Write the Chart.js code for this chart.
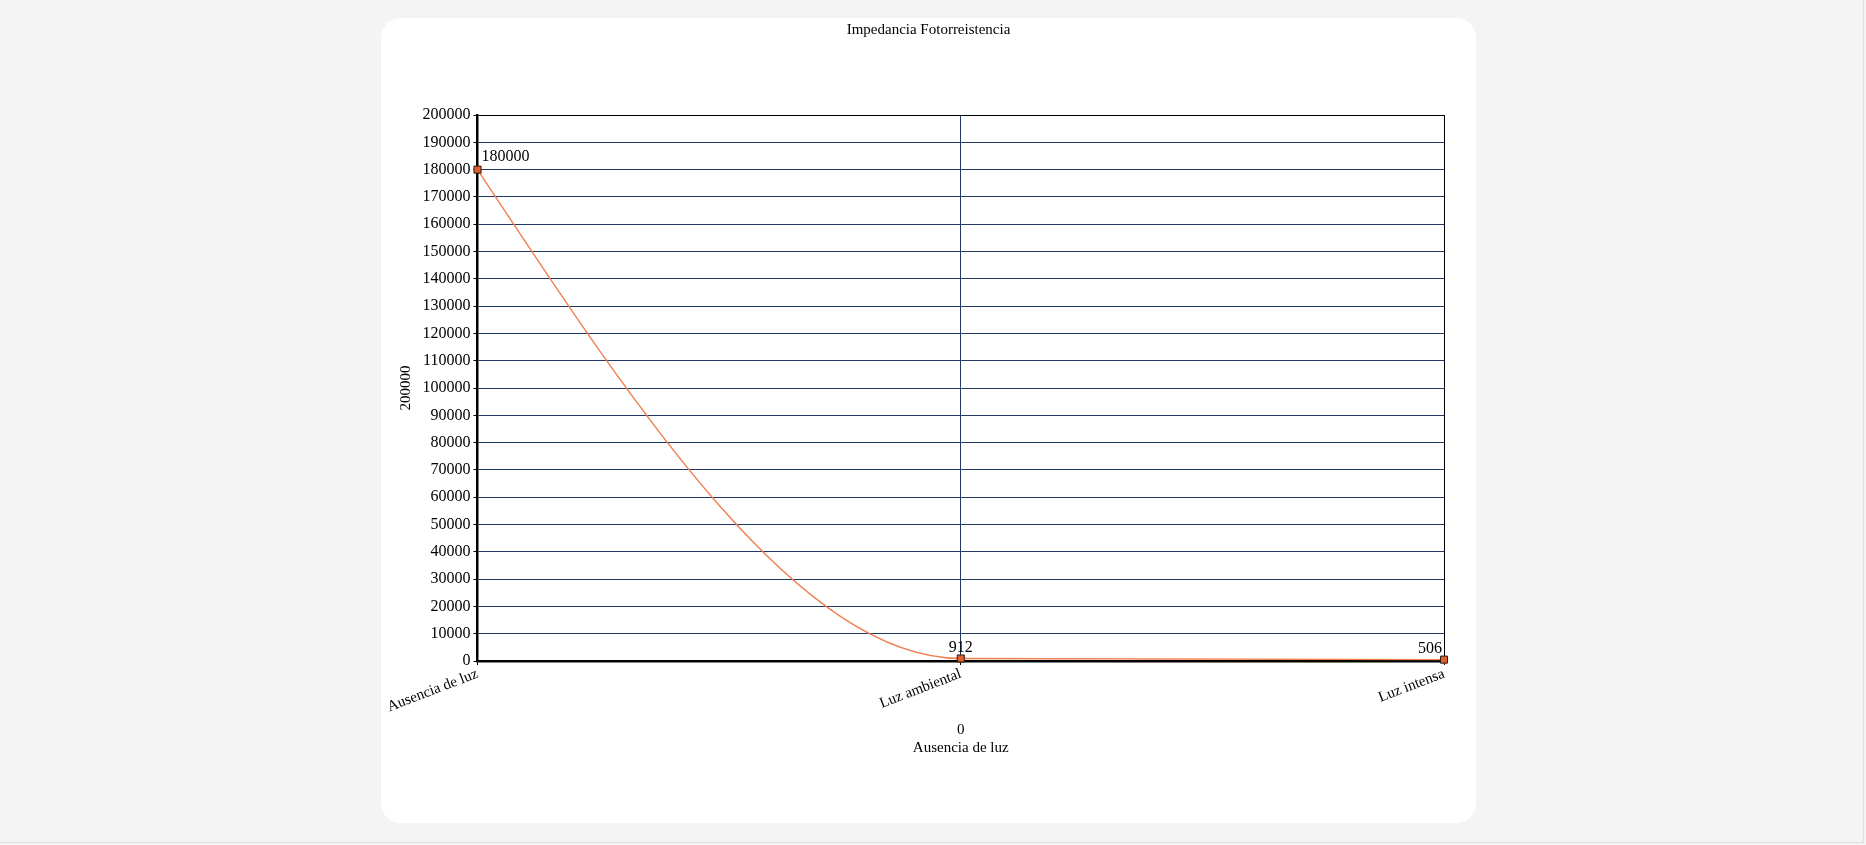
<!DOCTYPE html>
<html>
<head>
<meta charset="utf-8">
<script src="https://cdn.jsdelivr.net/npm/chart.js@4.4.1/dist/chart.umd.min.js"></script>
<style>
  html, body { margin: 0; padding: 0; }
  body { width: 1866px; height: 845px; background: #f4f4f4; position: relative; overflow: hidden; font-family: "Liberation Serif", serif; }
  #frame { position: absolute; left: 0; top: 0; width: 1863px; height: 842px; border-right: 1px solid #dedede; border-bottom: 1px solid #dedede; }
  #card { position: absolute; left: 381px; top: 18px; width: 1095px; height: 805px; background: #ffffff; border-radius: 20px; }
  #chart { position: absolute; left: 0; top: 0; }
</style>
</head>
<body>
<div id="frame"></div>
<div id="card"><canvas id="chart" width="1095" height="805"></canvas></div>
<script>
const chartTitle = 'Impedancia Fotorreistencia';
const categories = ['Ausencia de luz', 'Luz ambiental', 'Luz intensa'];
const impedance = [180000, 912, 506];
const yAxisTitle = '200000';
const xAxisTitle = ['0', 'Ausencia de luz'];
const yMin = 0, yMax = 200000, yStep = 10000;

const SERIF = '"Liberation Serif", "Times New Roman", serif';
const NAVY = '#1f3864';

// Monotone-X (Steffen) smoothing of the line, computed from the points' own pixel positions
const monotoneX = {
  id: 'monotoneX',
  beforeDatasetDraw(chart, args) {
    const meta = chart.getDatasetMeta(args.index);
    const line = meta.dataset;
    const pts = meta.data;
    if (!line || pts.length < 2) return;
    if (typeof line.updateControlPoints === 'function') line.updateControlPoints(chart.chartArea, 'x');
    const n = pts.length;
    const h = [], s = [], m = new Array(n).fill(0);
    for (let i = 0; i < n - 1; i++) {
      h[i] = pts[i + 1].x - pts[i].x;
      s[i] = (pts[i + 1].y - pts[i].y) / h[i];
    }
    const sign = (v) => v < 0 ? -1 : 1;
    for (let i = 1; i < n - 1; i++) {
      const p = (s[i - 1] * h[i] + s[i] * h[i - 1]) / (h[i - 1] + h[i]);
      m[i] = (sign(s[i - 1]) + sign(s[i])) * Math.min(Math.abs(s[i - 1]), Math.abs(s[i]), 0.5 * Math.abs(p)) || 0;
    }
    if (n === 2) { m[0] = s[0]; m[1] = s[0]; }
    else {
      m[0] = (3 * s[0] - m[1]) / 2;
      m[n - 1] = (3 * s[n - 2] - m[n - 2]) / 2;
    }
    for (let i = 0; i < n; i++) {
      const pt = pts[i];
      const dxPrev = i > 0 ? h[i - 1] / 3 : 0;
      const dxNext = i < n - 1 ? h[i] / 3 : 0;
      pt.cp1x = pt.x - dxPrev; pt.cp1y = pt.y - dxPrev * m[i];
      pt.cp2x = pt.x + dxNext; pt.cp2y = pt.y + dxNext * m[i];
    }
  }
};

const valueLabels = {
  id: 'valueLabels',
  afterDatasetsDraw(chart) {
    const ctx = chart.ctx;
    const meta = chart.getDatasetMeta(0);
    const data = chart.data.datasets[0].data;
    ctx.save();
    ctx.font = '16px ' + SERIF;
    ctx.fillStyle = '#000';
    ctx.textBaseline = 'middle';
    const last = meta.data.length - 1;
    meta.data.forEach((pt, i) => {
      let x = pt.x, dy = 11;
      if (i === 0) { ctx.textAlign = 'left'; x += 4; dy = 13; }
      else if (i === last) { ctx.textAlign = 'right'; x -= 2; }
      else { ctx.textAlign = 'center'; }
      ctx.fillText(String(data[i]), x, pt.y - dy);
    });
    ctx.restore();
  }
};

new Chart(document.getElementById('chart'), {
  type: 'line',
  data: {
    labels: categories,
    datasets: [{
      data: impedance,
      borderColor: '#f07f50',
      borderWidth: 1.4,
      cubicInterpolationMode: 'monotone',
      pointStyle: 'rect',
      pointRadius: 5,
      pointHoverRadius: 5,
      pointBackgroundColor: '#e0602a',
      pointBorderColor: '#2a1a10',
      pointBorderWidth: 1,
      clip: false
    }]
  },
  options: {
    responsive: false,
    animation: false,
    devicePixelRatio: 1,
    events: [],
    layout: { padding: { left: 32, right: 32, top: 0, bottom: 0 } },
    plugins: {
      legend: { display: false },
      tooltip: { enabled: false },
      title: {
        display: true,
        text: chartTitle,
        color: '#000',
        font: { family: SERIF, size: 15, weight: 'normal' },
        padding: { top: 3, bottom: 76 }
      }
    },
    scales: {
      x: {
        type: 'category',
        offset: false,
        afterFit(scale) { scale.height = 162; },
        ticks: {
          color: '#000',
          font: { family: SERIF, size: 15 },
          minRotation: 21,
          maxRotation: 21,
          padding: 0,
          autoSkip: false
        },
        grid: {
          color: (c) => c.index === 1 ? NAVY : (c.index === 2 ? '#000' : 'rgba(0,0,0,0)'),
          lineWidth: 1,
          tickLength: 4,
          tickColor: '#000'
        },
        border: { color: '#000', width: 2.5 },
        title: {
          display: true,
          text: xAxisTitle,
          color: '#000',
          font: { family: SERIF, size: 15 },
          padding: { top: 0, bottom: 66 }
        }
      },
      y: {
        min: yMin,
        max: yMax,
        afterFit(scale) { scale.width = 64.5; },
        ticks: {
          stepSize: yStep,
          color: '#000',
          font: { family: SERIF, size: 16 },
          padding: 3,
          callback: (v) => String(v)
        },
        grid: {
          color: (c) => (c.tick && c.tick.value === yMax) ? '#000' : NAVY,
          lineWidth: 1,
          tickLength: 4,
          tickColor: '#000'
        },
        border: { color: '#000', width: 2.5 },
        title: {
          display: true,
          text: yAxisTitle,
          color: '#000',
          font: { family: SERIF, size: 15 },
          padding: { top: -15.5, bottom: 0 }
        }
      }
    }
  },
  plugins: [monotoneX, valueLabels]
});
</script>
</body>
</html>
